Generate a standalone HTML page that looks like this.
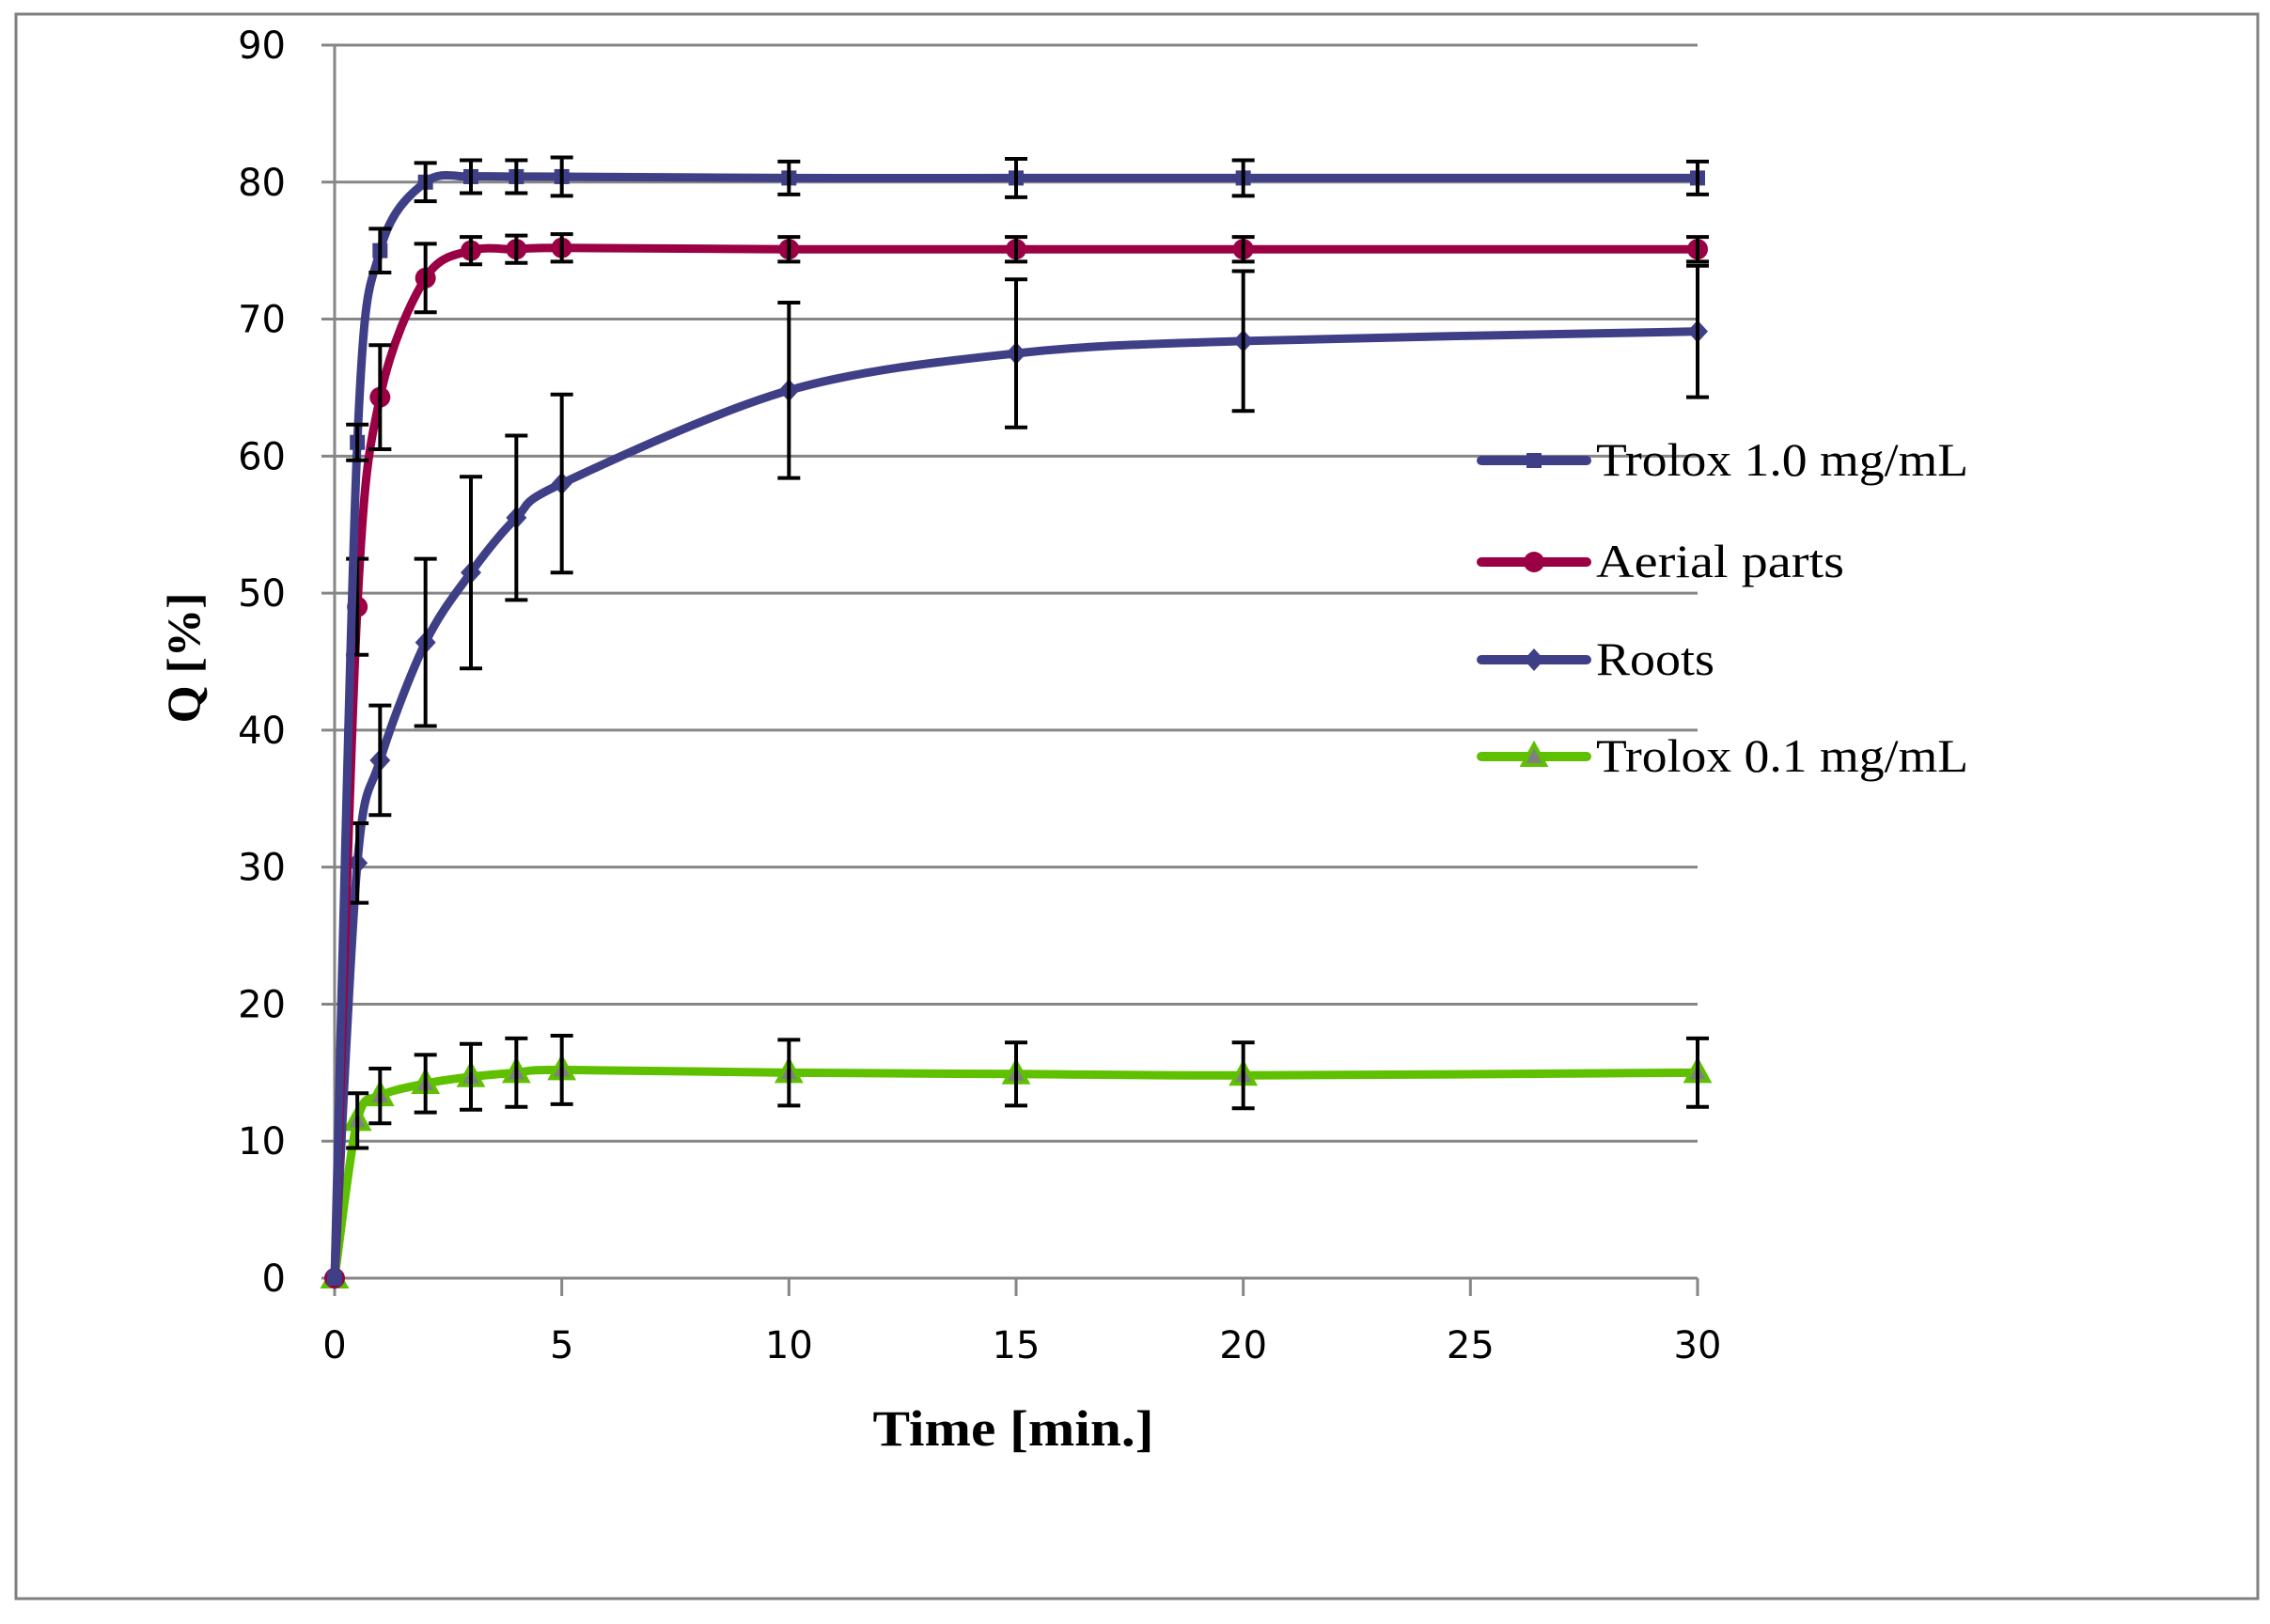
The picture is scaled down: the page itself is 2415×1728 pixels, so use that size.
<!DOCTYPE html>
<html><head><meta charset="utf-8"><style>
html,body{margin:0;padding:0;background:#fff}
svg{display:block}
</style></head><body>
<svg id="chart" width="2415" height="1728" viewBox="0 0 2415 1728" xmlns="http://www.w3.org/2000/svg">
<rect x="17" y="15" width="2385" height="1686" fill="#fff" stroke="#7f7f7f" stroke-width="3"/>
<g id="grid"></g>
<g id="axes"></g>
<g id="series"></g>
<g id="legend"></g>
<text transform="translate(212,700) rotate(-90)" text-anchor="middle" font-family="Liberation Serif, serif" font-weight="bold" font-size="50" textLength="139" lengthAdjust="spacingAndGlyphs">Q [%]</text>
<text x="1078" y="1538" text-anchor="middle" font-family="Liberation Serif, serif" font-weight="bold" font-size="54" textLength="299" lengthAdjust="spacingAndGlyphs">Time [min.]</text>
</svg>
<script>
const times=[0,0.5,1,2,3,4,5,10,15,20,30];
const trolox1=[0,61,75,80,80.4,80.4,80.4,80.3,80.3,80.3,80.3];
const trolox1Err=[0,1.3,1.6,1.4,1.2,1.2,1.4,1.2,1.4,1.3,1.2];
const aerial=[0,49,64.3,73,75,75.1,75.2,75.1,75.1,75.1,75.1];
const aerialErr=[0,3.5,3.8,2.5,1,1,1,0.9,0.9,0.9,0.9];
const roots=[0,30.3,37.8,46.4,51.5,55.5,58,64.8,67.5,68.4,69.1];
const rootsErr=[0,2.9,4,6.1,7,6,6.5,6.4,5.4,5.1,4.8];
const trolox01=[0,11.5,13.3,14.2,14.7,15,15.2,15,14.9,14.8,15];
const trolox01Err=[0,2,2,2.1,2.4,2.5,2.5,2.4,2.3,2.4,2.5];
const yTicks=[0,10,20,30,40,50,60,70,80,90];
const xTicks=[0,5,10,15,20,25,30];
const legendLabels=["Trolox 1.0 mg/mL","Aerial parts","Roots","Trolox 0.1 mg/mL"];
const legendWidths=[396,264,126,396];

const NS="http://www.w3.org/2000/svg";
const X0=356,X1=1806,Y0=1360,Y1=48;
const xs=v=>X0+(v-0)/(30-0)*(X1-X0);
const ys=v=>Y0-(v-0)/(90-0)*(Y0-Y1);
function mk(tag,attrs,parent){const e=document.createElementNS(NS,tag);for(const k in attrs)e.setAttribute(k,attrs[k]);parent.appendChild(e);return e;}
const grid=document.getElementById('grid'),axes=document.getElementById('axes'),ser=document.getElementById('series'),leg=document.getElementById('legend');
yTicks.forEach(t=>{
  if(t>0){const l=mk('line',{x1:X0-14,x2:X1,y1:ys(t),y2:ys(t),stroke:'#868686','stroke-width':3},grid);
  
  }
  const tx=mk('text',{x:X0-52,y:ys(t)+14,'text-anchor':'end','font-family':'DejaVu Sans, sans-serif','font-size':40},axes);
  tx.textContent=t;
  
  
});
const ya=mk('line',{x1:X0,x2:X0,y1:Y1,y2:Y0,stroke:'#868686','stroke-width':3},axes);


const xa=mk('line',{x1:X0-14,x2:X1,y1:Y0,y2:Y0,stroke:'#868686','stroke-width':3},axes);


xTicks.forEach(t=>{
  const l=mk('line',{x1:xs(t),x2:xs(t),y1:Y0,y2:Y0+19,stroke:'#868686','stroke-width':3},axes);
  
  
  const tx=mk('text',{x:xs(t),y:Y0+85,'text-anchor':'middle','font-family':'DejaVu Sans, sans-serif','font-size':40},axes);
  tx.textContent=t;
  
  
});
function smooth(pts){
  let d=`M${pts[0][0]},${pts[0][1]}`;
  for(let i=0;i<pts.length-1;i++){
    const p0=pts[i-1]||pts[i],p1=pts[i],p2=pts[i+1],p3=pts[i+2]||p2;
    const t=0.32;
    const c1=[p1[0]+(p2[0]-p0[0])*t/2,p1[1]+(p2[1]-p0[1])*t/2];
    const c2=[p2[0]-(p3[0]-p1[0])*t/2,p2[1]-(p3[1]-p1[1])*t/2];
    d+=` C${c1[0]},${c1[1]} ${c2[0]},${c2[1]} ${p2[0]},${p2[1]}`;
  }
  return d;
}
function marker(shape,x,y,col,g){
  let e;
  if(shape==='square')e=mk('rect',{x:x-8,y:y-8,width:16,height:16,fill:col},g);
  else if(shape==='circle')e=mk('circle',{cx:x,cy:y,r:11,fill:col},g);
  else if(shape==='diamond')e=mk('polygon',{points:`${x},${y-12} ${x+11},${y} ${x},${y+12} ${x-11},${y}`,fill:col},g);
  else e=mk('polygon',{points:`${x},${y-13} ${x+12},${y+9} ${x-12},${y+9}`,fill:'#808080',stroke:col,'stroke-width':4},g);
  return e;
}
const series=[
  {name:'trolox-1-0',vals:trolox1,err:trolox1Err,col:'#3f3f88',shape:'square'},
  {name:'aerial-parts',vals:aerial,err:aerialErr,col:'#9b0045',shape:'circle'},
  {name:'roots',vals:roots,err:rootsErr,col:'#3f3f88',shape:'diamond'},
  {name:'trolox-0-1',vals:trolox01,err:trolox01Err,col:'#5fc000',shape:'triangle'}
];
series.slice().reverse().forEach(s=>{
  const g=mk('g',{},ser);
  
  
  const pts=times.map((t,i)=>[xs(t),ys(s.vals[i])]);
  const p=mk('path',{d:smooth(pts),fill:'none',stroke:s.col,'stroke-width':9,'stroke-linejoin':'round'},g);
  
  
  times.forEach((t,i)=>{
    const m=marker(s.shape,xs(t),ys(s.vals[i]),s.col,g);
    
    
    if(s.err[i]>0){
      const x=xs(t),yh=ys(s.vals[i]+s.err[i]),yl=ys(s.vals[i]-s.err[i]);
      const eb=mk('path',{d:`M${x},${yh}V${yl}M${x-12},${yh}H${x+12}M${x-12},${yl}H${x+12}`,stroke:'#000','stroke-width':4,fill:'none'},g);
      
      
    }
  });
});
const legY=[490,598,702,805];
series.forEach((s,i)=>{
  const g=mk('g',{},leg);
  
  
  mk('line',{x1:1576,x2:1688,y1:legY[i],y2:legY[i],stroke:s.col,'stroke-width':10,'stroke-linecap':'round'},g);
  marker(s.shape,1632,legY[i],s.col,g);
  const tx=mk('text',{x:1698,y:legY[i]+16,'font-family':'Liberation Serif, serif','font-size':50,textLength:legendWidths[i],lengthAdjust:'spacingAndGlyphs'},g);
  tx.textContent=legendLabels[i];
});
</script>
</body></html>
